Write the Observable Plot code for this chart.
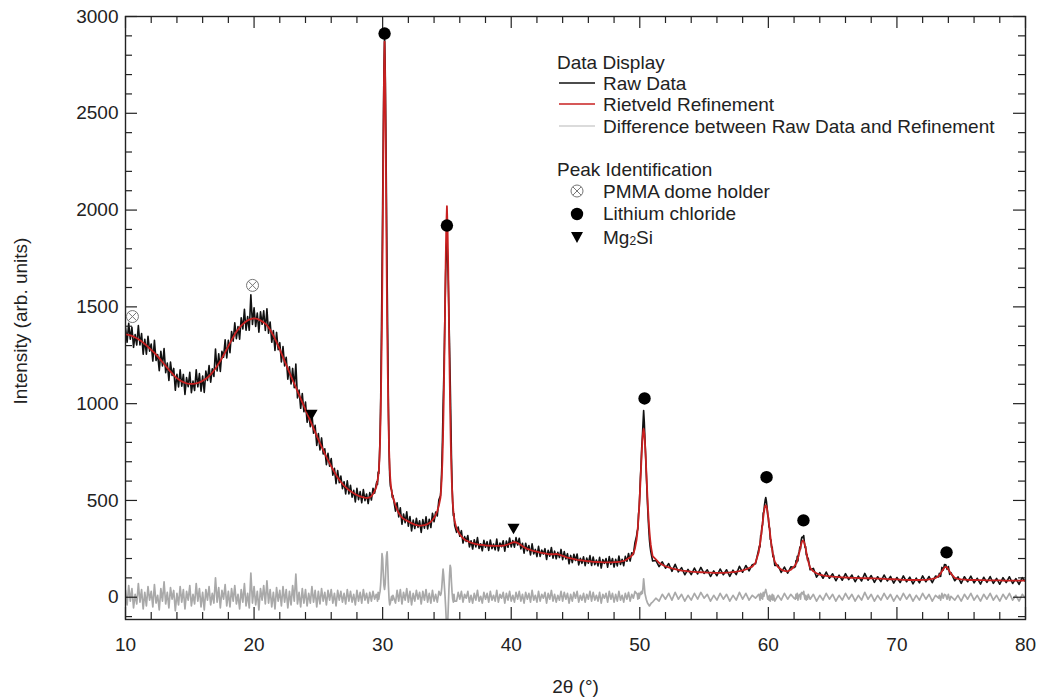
<!DOCTYPE html>
<html><head><meta charset="utf-8">
<script src="https://cdn.jsdelivr.net/npm/d3@7"></script>
<script src="https://cdn.jsdelivr.net/npm/@observablehq/plot@0.6"></script>
<style>body{margin:0;background:#fff}#chart{width:1037px;height:699px}</style>
</head><body><div id="chart"></div>
<script>
// ---- Data: 2θ grid segments (start, step) with refinement (calc) and difference (diff) values ----
const segStart = [10.00, 29.55, 31.00, 34.55, 35.75, 49.80, 51.00, 59.30, 60.50, 62.10, 63.25, 73.30, 74.50];
const segStep  = [0.125, 0.05,  0.125, 0.05,  0.125, 0.05,  0.25,  0.05,  0.25,  0.05,  0.25,  0.10,  0.25];

const calcA = [
1358,1357,1355,1353,1350,1346,1342,1338,
1333,1328,1322,1315,1308,1301,1293,1286,
1278,1270,1262,1253,1244,1235,1225,1215,
1205,1195,1185,1175,1165,1156,1147,1139,
1132,1126,1120,1115,1111,1108,1105,1103,
1102,1102,1102,1103,1105,1107,1110,1114,
1118,1123,1128,1135,1142,1151,1160,1171,
1182,1194,1207,1221,1235,1250,1265,1281,
1297,1313,1328,1343,1358,1371,1383,1393,
1403,1411,1418,1424,1430,1434,1437,1439,
1440,1439,1438,1434,1430,1425,1420,1413,
1405,1394,1382,1367,1352,1335,1318,1299,
1280,1260,1240,1220,1200,1181,1161,1142,
1122,1103,1084,1065,1045,1026,1007,988,
968,949,930,911,892,872,853,834,
815,796,778,760,742,725,708,692,
676,661,646,632,619,607,596,586,
577,569,561,554,548,542,537,532,
528,524,521,518,516,514,513,514,
516,522,533,548,568];
const diffA = [
35,-40,60,-20,45,-55,15,-35,
70,-25,40,-60,25,-45,55,-15,
30,-50,65,-30,10,-65,45,-20,
80,-35,25,-55,50,-10,35,-70,
20,-40,55,-25,40,-60,30,-15,
60,-45,15,-35,70,-20,45,-50,
25,-65,40,-15,55,-40,20,-30,
100,-25,50,-55,35,-10,65,-45,
30,-50,45,-20,60,-35,15,-60,
40,-25,70,-45,20,-55,125,-30,
55,-40,30,-65,45,-15,60,-35,
85,-30,40,-50,25,-60,50,-20,
35,-45,55,-25,40,-55,30,-40,
60,-20,120,-35,25,-50,45,-30,
40,-45,20,-30,55,-25,35,-50,
30,-35,45,-20,25,-40,35,-15,
40,-30,20,-45,35,-15,30,-25,
20,-35,40,-20,30,-25,15,-40,
35,-20,25,-30,40,-15,20,-30,
25,-20,30,-10,15];

const calcB = [
588,602,622,650,709,802,959,1186,1427,1826,
2277,2664,2870,2659,2266,1811,1406,1160,928,765,
667,606,572,548,530,516];
const diffB = [
10,-20,25,-10,15,30,70,140,225,200,
120,60,40,70,150,215,235,160,60,-10,
-40,-30,-10,5,-15,10];

const calcC = [
475,453,435,422,412,405,400,396,
392,387,383,379,375,373,371,370,
370,371,372,375,378,383,390,399,
410,425,445,474,515];
const diffC = [
-30,35,-20,40,-35,25,-15,45,
-25,30,-40,20,-20,35,-10,25,
-35,30,-15,40,-25,20,-30,35,
-20,15,-25,30,10];

const calcD = [
560,620,708,838,1011,1229,1475,1722,1915,2020,
1907,1707,1452,1198,973,792,655,559,491,446,
416,392];
const diffD = [
20,50,100,145,110,60,10,-50,-120,-175,
-150,-60,30,110,165,150,80,25,-10,-25,
15,-20];

const calcE = [
355,338,325,314,305,298,293,289,
285,282,279,277,275,273,272,271,
270,269,268,267,267,266,266,265,
265,265,265,265,266,267,268,270,
273,276,280,283,284,283,280,275,
270,264,258,254,250,247,244,241,
239,237,235,233,231,229,228,226,
225,223,222,222,222,223,224,222,
220,217,214,211,208,205,203,201,
199,197,195,193,192,191,190,189,
188,187,186,185,184,183,183,182,
182,181,181,180,180,180,180,180,
180,180,181,181,182,183,184,186,
188,191,196,201,207,215,226,252,
297];
const diffE = [
-20,25,-10,30,-25,15,-5,30,
-25,10,-30,20,-15,35,-20,5,
-30,25,-10,20,-25,30,-15,10,
-20,35,-25,15,-5,25,-30,20,
-15,30,-20,10,-25,25,-10,30,
-20,15,-30,25,-10,20,-25,35,
-15,10,-25,30,-20,15,-5,25,
-30,20,-10,35,-20,15,-25,10,
-15,30,-20,25,-10,20,-30,15,
-20,25,-5,30,-25,10,-15,20,
-25,15,-10,30,-20,25,-15,10,
-20,25,-30,15,-5,20,-25,30,
-10,20,-25,15,-20,30,-15,10,
-25,20,-10,25,-20,15,-5,30,
20];

const calcF = [
326,363,408,462,525,596,671,743,806,849,
870,846,801,736,662,585,512,446,389,342,
303,273,250];
const diffF = [
15,-10,20,-5,10,25,15,30,20,50,
95,60,20,5,-10,-20,-30,-35,-40,-45,
-40,-35,-30];

const calcG = [
212,195,178,168,160,154,149,145,141,138,
136,134,132,131,130,129,128,127,127,126,
126,126,126,127,128,130,132,135,139,144,
151,158,178,232];
const diffG = [
-25,-5,-20,15,-10,20,-15,25,-10,15,
-20,10,-15,20,-10,25,-5,15,-20,10,
-15,20,-10,15,-20,10,-15,25,-10,20,
-15,10,-5,15];

const calcH = [
254,275,298,326,353,383,410,437,457,471,
475,470,455,434,406,378,347,319,290,266,
244,225,208];
const diffH = [
10,-15,20,-5,15,-10,25,5,20,30,
40,25,10,-10,5,-15,10,-20,5,-10,
15,-15,10];

const calcI = [184,156,143,136,134,142,158];
const diffI = [-20,10,-15,20,-10,15,-5];

const calcJ = [
168,174,182,191,202,215,229,244,259,273,
284,291,293,289,280,267,251,234,217,201,
186];
const diffJ = [
-10,15,-5,20,-15,10,5,15,-10,20,
25,20,15,30,5,-10,10,-15,5,-10,
15];

const calcK = [
152,134,124,117,113,110,108,106,105,104,
103,102,101,100,100,99,99,98,98,97,
97,96,96,95,94,93,93,92,91,90,
90,89,89,89,89,90,90,92,95,99,
110];
const diffK = [
-10,15,-20,10,-15,20,-10,15,-20,10,
-15,20,-10,15,-20,10,-15,25,-10,15,
-20,10,-15,20,-10,15,-20,10,-15,20,
-10,15,-20,10,-15,20,-10,15,-20,10,
-5];

const calcL = [114,123,134,145,154,158,154,144,133,122];
const diffL = [10,-15,20,-5,15,10,-10,15,-15,5];

const calcM = [100,95,92,91,90,89,89,88,88,88,87,87,87,87,87,86,86,86,86,86,86,86,86];
const diffM = [-15,10,-20,15,-10,20,-15,10,-20,15,-10,20,-15,10,-20,15,-10,20,-15,10,-20,15,-5];

// Peak identification markers
const pmmaX = [10.54, 19.88];
const pmmaY = [1450, 1611];
const liclX = [30.15, 35.0, 50.37, 59.86, 62.73, 73.86];
const liclY = [2912, 1920, 1027, 620, 397, 232];
const mg2siX = [24.47, 40.18];
const mg2siY = [950, 361];

// Axes
const xTicks = [10, 20, 30, 40, 50, 60, 70, 80];
const yTicks = [0, 500, 1000, 1500, 2000, 2500, 3000];
const xTitle = "2θ (°)";
const yTitle = "Intensity (arb. units)";
const legendLines = ["Raw Data", "Rietveld Refinement", "Difference between Raw Data and Refinement"];
const legendPeaks = ["PMMA dome holder", "Lithium chloride"];

// ---- Build table ----
const calcSegs = [calcA,calcB,calcC,calcD,calcE,calcF,calcG,calcH,calcI,calcJ,calcK,calcL,calcM];
const diffSegs = [diffA,diffB,diffC,diffD,diffE,diffF,diffG,diffH,diffI,diffJ,diffK,diffL,diffM];
const rows = [];
calcSegs.forEach((c, s) => {
  const d = diffSegs[s];
  if (c.length !== d.length) console.warn("segment", s, c.length, d.length);
  const n = Math.min(c.length, d.length);
  for (let i = 0; i < n; i++) {
    const x = +(segStart[s] + i * segStep[s]).toFixed(3);
    rows.push({x, calc: c[i], diff: d[i], raw: c[i] + d[i]});
  }
});
const pmma = pmmaX.map((x, i) => ({x, y: pmmaY[i]}));
const licl = liclX.map((x, i) => ({x, y: liclY[i]}));
const mg2si = mg2siX.map((x, i) => ({x, y: mg2siY[i]}));

const W = 1037, Hh = 699, mL = 125, mR = 12, mT = 16, mB = 80;
const fw = W - mL - mR, fh = Hh - mT - mB;
const xDom = [10, 80], yDom = [-115, 3000];
const xPer = (xDom[1] - xDom[0]) / fw, yPer = (yDom[1] - yDom[0]) / fh;
const xMinor = d3.range(12, 80, 2).filter(v => v % 10 !== 0);
const yMinor = d3.range(-100, 3001, 100).filter(v => v % 500 !== 0);
const tickColor = "#222";
const MAJ = 12, MIN = 7;
const tk = {stroke: tickColor, strokeWidth: 1.2};

const chart = Plot.plot({
  width: W, height: Hh,
  marginLeft: mL, marginRight: mR, marginTop: mT, marginBottom: mB,
  style: {fontFamily: "'Liberation Sans', Arial, sans-serif", fontSize: "19px", color: "#222", background: "#fff"},
  x: {domain: xDom},
  y: {domain: yDom},
  marks: [
    Plot.lineY(rows, {x: "x", y: "diff", stroke: "#a9a9a9", strokeWidth: 1.7, clip: true}),
    Plot.lineY(rows, {x: "x", y: "raw", stroke: "#111", strokeWidth: 1.6, clip: true}),
    Plot.lineY(rows, {x: "x", y: "calc", stroke: "#c82020", strokeWidth: 1.8, clip: true}),
    // inward ticks, all four sides
    Plot.ruleX(xTicks, {x: d => d, y1: yDom[0], y2: yDom[0] + MAJ * yPer, ...tk}),
    Plot.ruleX(xTicks, {x: d => d, y1: yDom[1], y2: yDom[1] - MAJ * yPer, ...tk}),
    Plot.ruleX(xMinor, {x: d => d, y1: yDom[0], y2: yDom[0] + MIN * yPer, ...tk}),
    Plot.ruleX(xMinor, {x: d => d, y1: yDom[1], y2: yDom[1] - MIN * yPer, ...tk}),
    Plot.ruleY(yTicks, {y: d => d, x1: xDom[0], x2: xDom[0] + MAJ * xPer, ...tk}),
    Plot.ruleY(yTicks, {y: d => d, x1: xDom[1], x2: xDom[1] - MAJ * xPer, ...tk}),
    Plot.ruleY(yMinor, {y: d => d, x1: xDom[0], x2: xDom[0] + MIN * xPer, ...tk}),
    Plot.ruleY(yMinor, {y: d => d, x1: xDom[1], x2: xDom[1] - MIN * xPer, ...tk}),
    Plot.frame({stroke: tickColor, strokeWidth: 1.4}),
    Plot.axisX(xTicks, {anchor: "bottom", tickSize: 0, tickPadding: 18, tickFormat: "d", label: null}),
    Plot.axisY(yTicks, {anchor: "left", tickSize: 0, tickPadding: 7, tickFormat: "d", label: null}),
    Plot.text([xTitle], {text: d => d, frameAnchor: "bottom", textAnchor: "middle", lineAnchor: "middle", dy: 67, fontSize: 19}),
    Plot.text([yTitle], {text: d => d, frameAnchor: "left", textAnchor: "middle", lineAnchor: "middle", dx: -105, dy: 3, rotate: -90, fontSize: 19}),
    // markers
    Plot.dot(pmma, {x: "x", y: "y", r: 6, stroke: "#777", strokeWidth: 1, fill: "none"}),
    Plot.dot(pmma, {x: "x", y: "y", r: 3.9, symbol: "times", stroke: "#777", strokeWidth: 1}),
    Plot.dot(licl, {x: "x", y: "y", r: 6.2, symbol: "circle", fill: "#000", stroke: "none"}),
    Plot.dot(mg2si, {x: "x", y: "y", r: 4.5, symbol: "triangle", rotate: 180, fill: "#000", stroke: "none"})
  ]
});
document.getElementById("chart").appendChild(chart);

// ---- Legend (inside plot area) ----
const svg = d3.select(chart);
const lg = svg.append("g").attr("font-family", "'Liberation Sans', Arial, sans-serif").attr("font-size", 19)
  .attr("fill", "#222").attr("text-anchor", "start");
const tx = 603, lx0 = 559, lx1 = 595, sx = 577, base = 7;
lg.append("text").attr("x", 557).attr("y", 62 + base).text("Data Display");
const lineColors = ["#111", "#c82020", "#b8b8b8"];
const lineYs = [83, 104, 126];
legendLines.forEach((t, i) => {
  lg.append("line").attr("x1", lx0).attr("x2", lx1).attr("y1", lineYs[i]).attr("y2", lineYs[i])
    .attr("stroke", lineColors[i]).attr("stroke-width", i === 2 ? 1.2 : 1.5);
  lg.append("text").attr("x", tx).attr("y", lineYs[i] + base).text(t);
});
lg.append("text").attr("x", 557).attr("y", 169 + base).text("Peak Identification");
lg.append("circle").attr("cx", sx).attr("cy", 191).attr("r", 6).attr("fill", "none").attr("stroke", "#777").attr("stroke-width", 1);
lg.append("path").attr("d", `M${sx-4.2},${191-4.2}L${sx+4.2},${191+4.2}M${sx-4.2},${191+4.2}L${sx+4.2},${191-4.2}`).attr("stroke", "#777").attr("stroke-width", 1);
lg.append("text").attr("x", tx).attr("y", 191 + base).text(legendPeaks[0]);
lg.append("circle").attr("cx", sx).attr("cy", 214).attr("r", 6.2).attr("fill", "#000");
lg.append("text").attr("x", tx).attr("y", 213 + base).text(legendPeaks[1]);
lg.append("path").attr("d", `M${sx-6},${232}L${sx+6},${232}L${sx},${243}Z`).attr("fill", "#000");
const mt = lg.append("text").attr("x", tx).attr("y", 237 + base);
mt.append("tspan").text("Mg");
mt.append("tspan").attr("font-size", 12).attr("dy", 1).text("2");
mt.append("tspan").attr("font-size", 19).attr("dy", -1).text("Si");
</script>
</body></html>
